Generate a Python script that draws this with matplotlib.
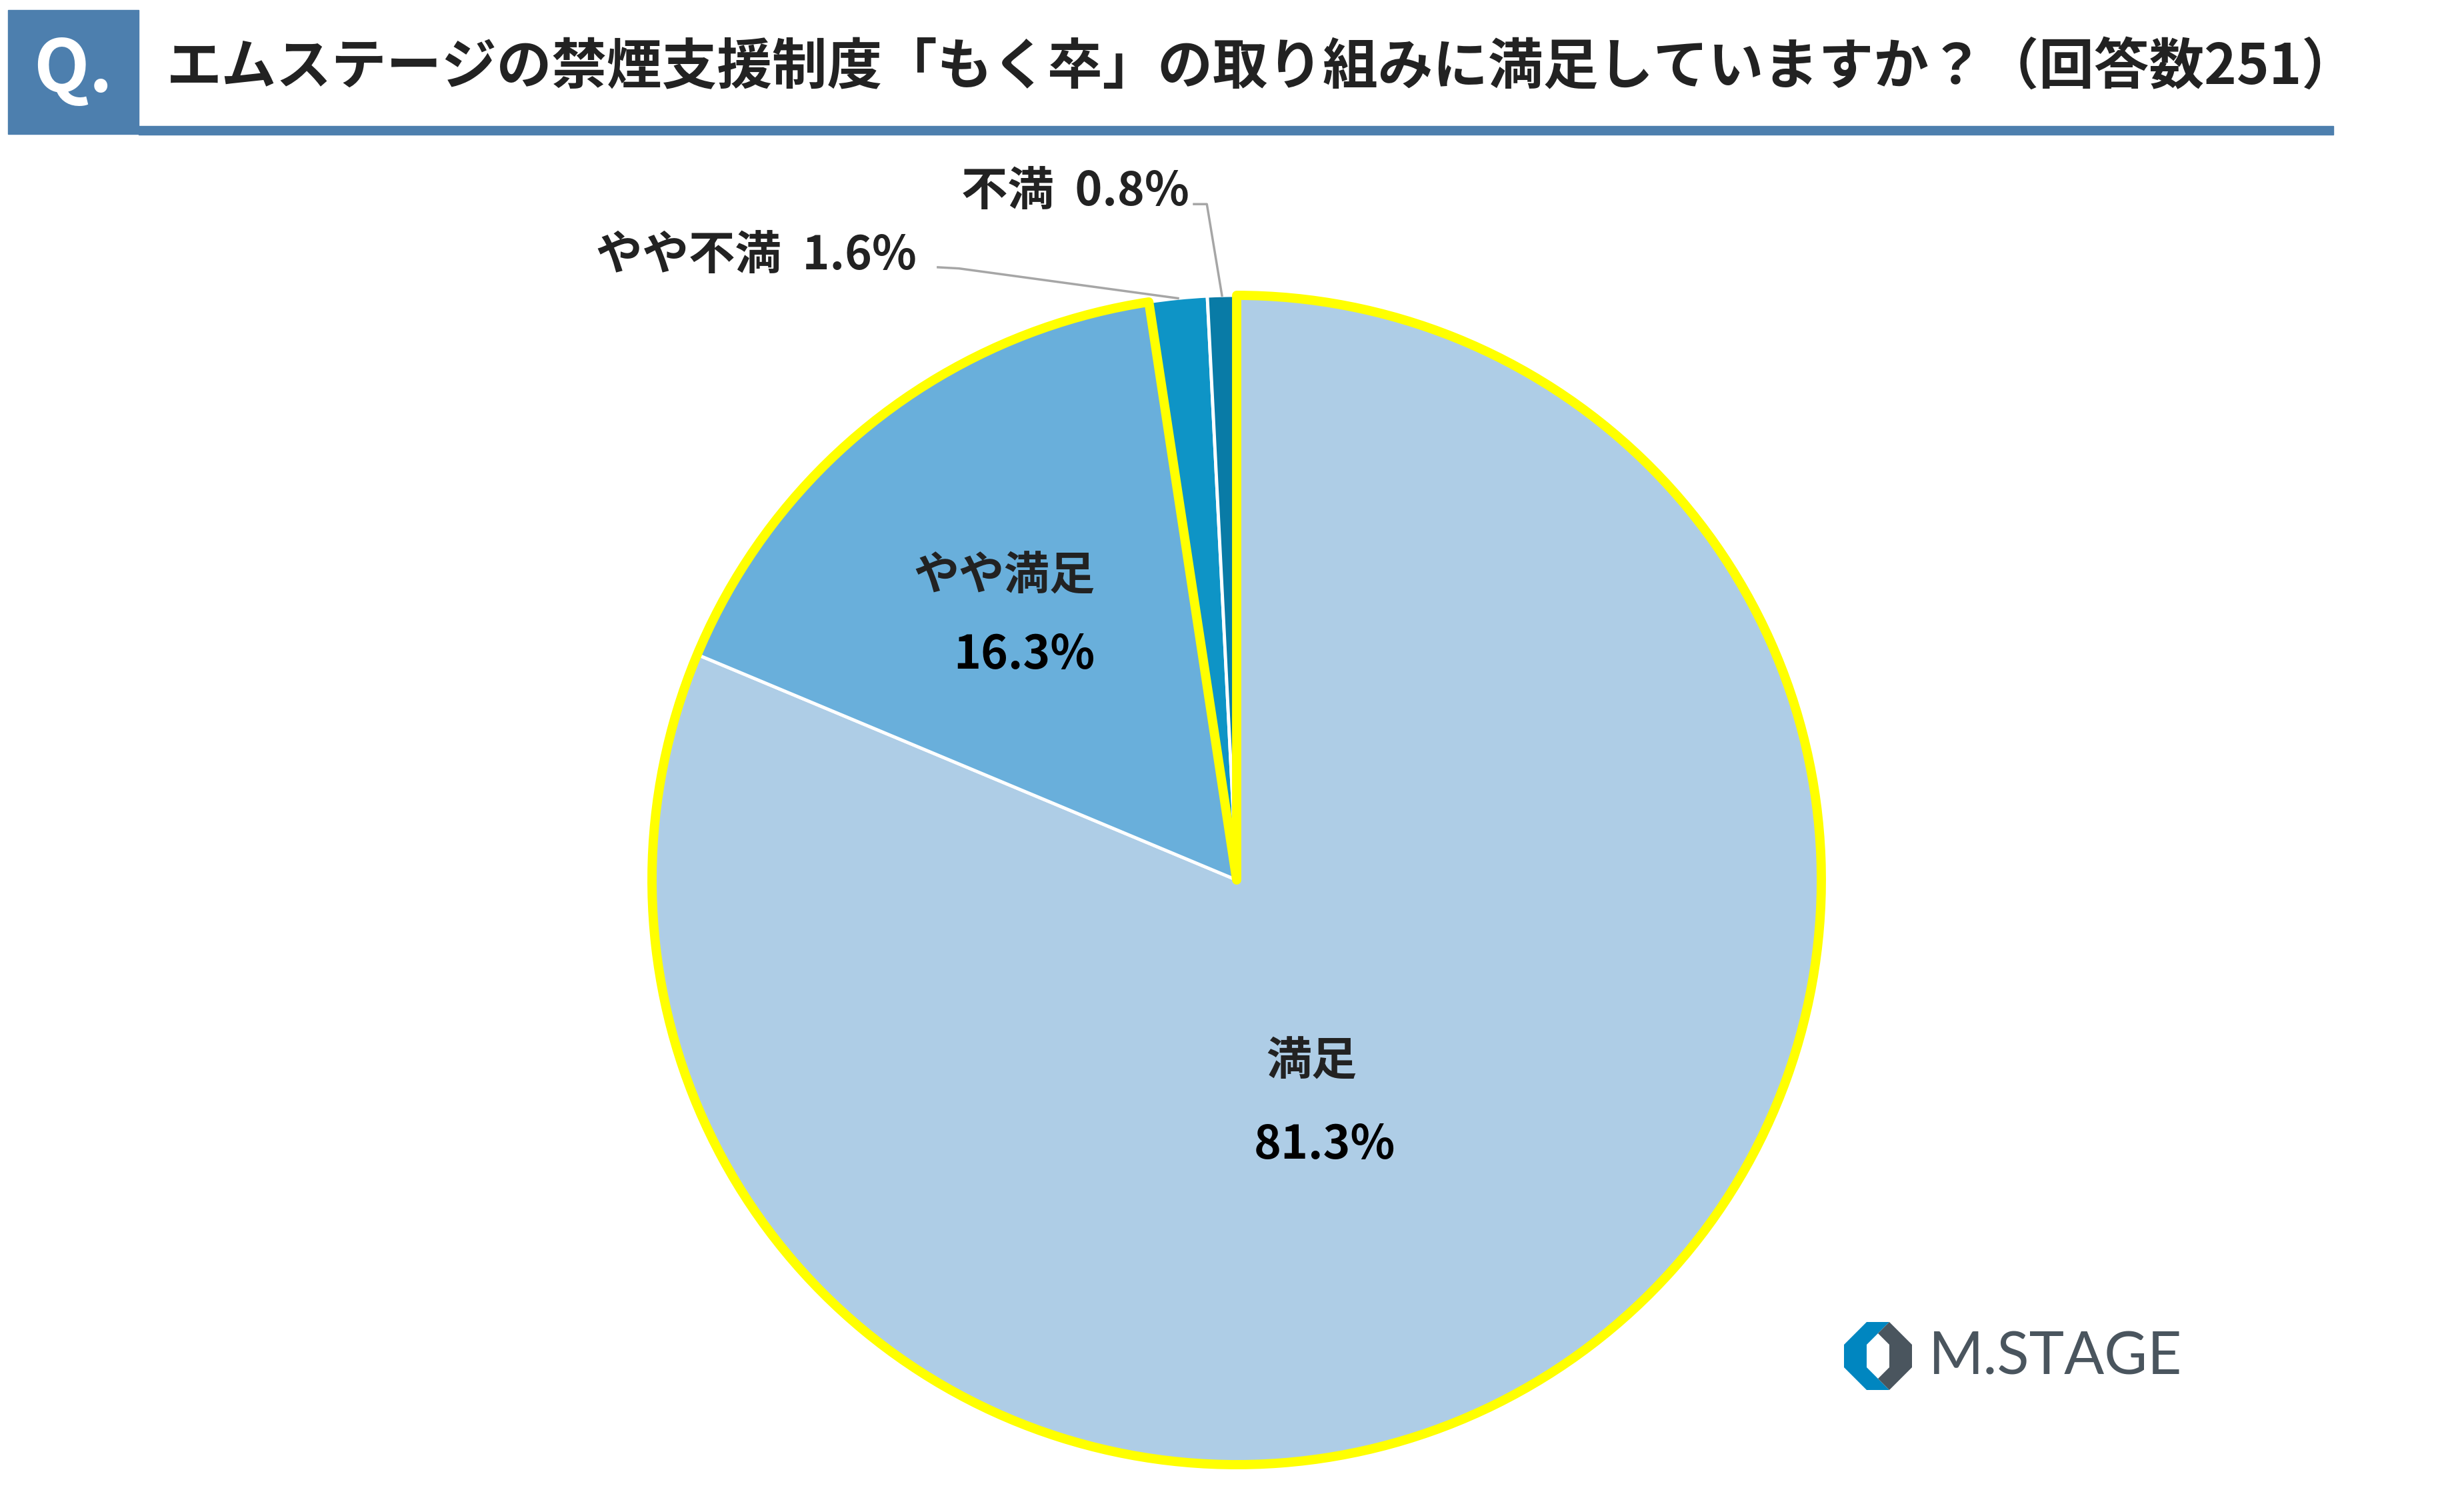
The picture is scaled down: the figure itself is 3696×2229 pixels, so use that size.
import numpy as np
import matplotlib.pyplot as plt
from matplotlib.patches import Wedge, Rectangle, Polygon

plt.rcParams['font.family'] = ['Noto Sans CJK JP', 'DejaVu Sans']

# データ（回答数251）
categories = ['満足', 'やや満足', 'やや不満', '不満']
shares = [81.3, 16.3, 1.6, 0.8]
colors = ['#aecde6', '#69afdb', '#0e94c6', '#097ba6']
title = 'エムステージの禁煙支援制度「もく卒」の取り組みに満足していますか？（回答数251）'

W, H = 3696, 2229          # 出力サイズ(px)
cx, cy, R = 1855, 1320, 877  # 円の中心と半径(px)

fig = plt.figure(figsize=(W / 100, H / 100), dpi=100)

# 背景用の軸（ピクセル座標）
bg = fig.add_axes([0, 0, 1, 1])
bg.set_xlim(0, W)
bg.set_ylim(H, 0)
bg.axis('off')

hdr = '#4d7fae'
bg.add_patch(Rectangle((12, 15), 196, 186, color=hdr))
bg.add_patch(Rectangle((208, 189), 3292, 13, color=hdr))
bg.text(110, 106, 'Q.', color='white', fontsize=78, fontweight='bold',
        ha='center', va='center')
bg.text(250, 101, title, fontsize=59.5, fontweight='bold', color='#222222',
        ha='left', va='center')

# ロゴ
blue_part = [(2800, 1983), (2834, 1983), (2817, 2000), (2800, 2017), (2800, 2051),
             (2817, 2068), (2834, 2085), (2800, 2085), (2766, 2051), (2766, 2017)]
gray_part = [(2834, 1983), (2868, 2017), (2868, 2051), (2834, 2085), (2817, 2068),
             (2834, 2051), (2834, 2017), (2817, 2000)]
bg.add_patch(Polygon(blue_part, closed=True, color='#0086c0', lw=0))
bg.add_patch(Polygon(gray_part, closed=True, color='#4a555e', lw=0))
bg.text(2893, 2036, 'M.STAGE', family='Lato', fontsize=64, color='#4a555e',
        ha='left', va='center')

# 円グラフ
ax = fig.add_axes([(cx - R) / W, (H - cy - R) / H, 2 * R / W, 2 * R / H])
wedges, _ = ax.pie(shares, colors=colors, startangle=90, counterclock=False,
                   radius=1, wedgeprops=dict(edgecolor='white', linewidth=3.5))
ax.set_xlim(-1, 1)
ax.set_ylim(-1, 1)
ax.axis('off')

# 満足・やや満足の外枠（黄色）
ax.add_patch(Wedge((0, 0), 1, wedges[1].theta1, wedges[0].theta2, fill=False,
                   edgecolor='#ffff00', linewidth=10, joinstyle='round', clip_on=False))

# 内側ラベル
inner_pos = {0: ((0.128, -0.311), (0.150, -0.453)),
             1: ((-0.398, 0.519), (-0.363, 0.385))}
for i, (p_cat, p_val) in inner_pos.items():
    ax.text(*p_cat, categories[i], fontsize=49, fontweight='bold', color='#222222',
            ha='center', va='center')
    ax.text(*p_val, f'{shares[i]:.1f}%', fontsize=50, fontweight='bold', color='black',
            ha='center', va='center')

# 外側ラベルと引き出し線
outer_pos = {2: ((-0.548, 1.067), [(-0.511, 1.048), (-0.475, 1.046)]),
             3: ((-0.081, 1.177), [(-0.073, 1.156), (-0.051, 1.156)])}
for i, (p_txt, pts) in outer_pos.items():
    w = wedges[i]
    mid = np.deg2rad((w.theta1 + w.theta2) / 2)
    xs = [p[0] for p in pts] + [np.cos(mid)]
    ys = [p[1] for p in pts] + [np.sin(mid)]
    ax.plot(xs, ys, color='#a6a6a6', lw=2.5, clip_on=False)
    ax.text(*p_txt, f'{categories[i]}  {shares[i]:.1f}%', fontsize=50, fontweight='bold',
            color='#222222', ha='right', va='center')

fig.savefig('out.png', dpi=100)
